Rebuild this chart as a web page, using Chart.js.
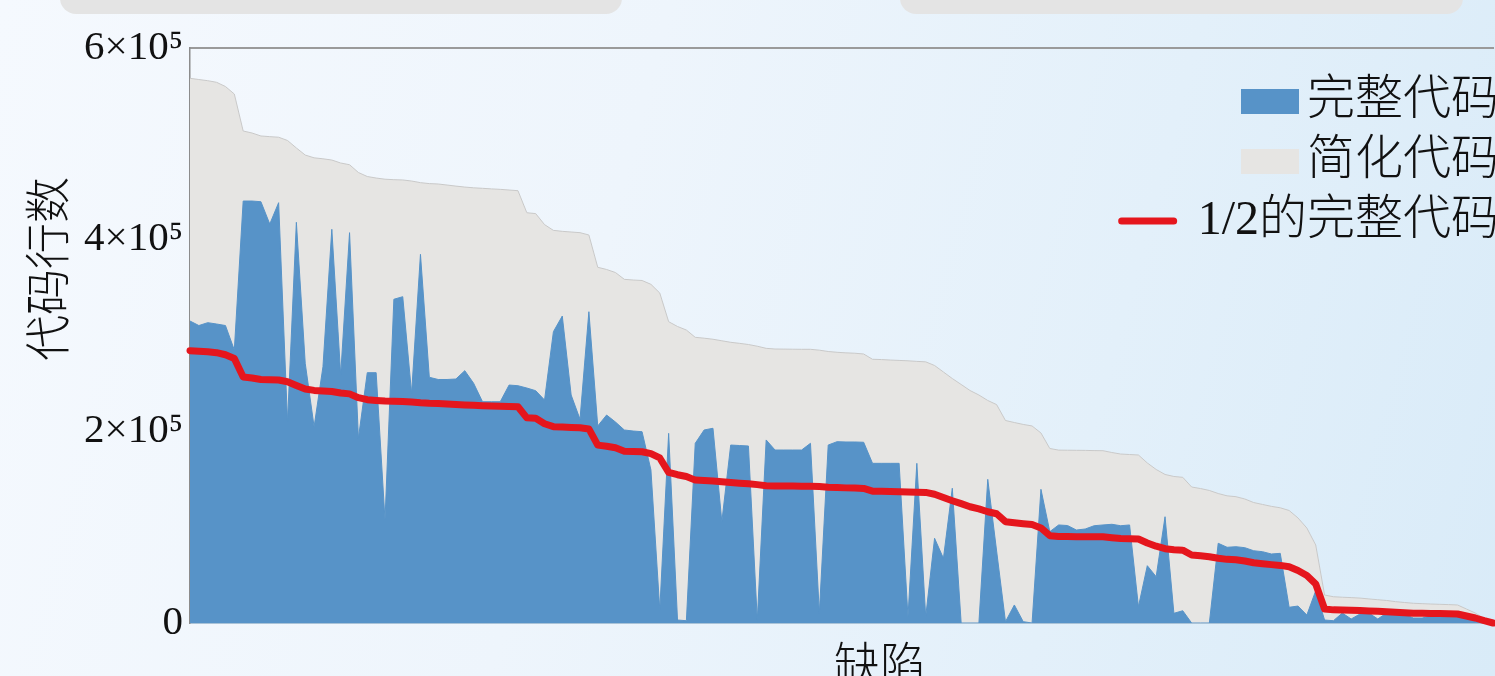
<!DOCTYPE html>
<html>
<head>
<meta charset="utf-8">
<title>代码行数</title>
<script src="https://cdn.jsdelivr.net/npm/chart.js@4.4.1/dist/chart.umd.min.js"></script>
<style>
  html, body { margin: 0; padding: 0; overflow: hidden; }
  body {
    width: 1495px; height: 676px; position: relative;
    background: linear-gradient(105deg, #f5f9fe 0%, #eef5fc 40%, #e3f0fa 72%, #d9ebf8 100%);
  }
  .tab { position: absolute; top: -30px; height: 44px; background: #e4e4e4; border-radius: 16px; }
  #chart { position: absolute; left: 0; top: 0; }
</style>
</head>
<body>
<div class="tab" style="left:60px; width:562px;"></div>
<div class="tab" style="left:900px; width:563px;"></div>
<canvas id="chart" width="1495" height="676"></canvas>
<script>
// values in thousands of lines, one entry per defect (sorted)
const fullCode = [
  315.1, 310.4, 313.4, 312.0, 310.4, 284.9, 440.3, 440.3, 439.6, 416.3,
  438.6, 210.1, 418.1, 271.0, 204.8, 267.4, 410.8, 258.8, 407.3, 192.7,
  261.2, 261.2, 107.5, 337.8, 340.5, 239.7, 384.7, 256.4, 254.1, 254.1,
  254.6, 263.3, 250.1, 230.9, 230.9, 230.9, 248.3, 247.6, 245.2, 242.4,
  232.7, 304.0, 320.3, 237.9, 212.6, 324.8, 205.6, 217.0, 209.7, 201.4,
  200.3, 199.6, 159.7, 13.6, 197.9, 3.1, 2.4, 187.5, 201.4, 203.2,
  105.7, 185.7, 185.2, 184.7, 3.1, 191.0, 180.5, 180.5, 180.5, 180.5,
  187.5, 10.1, 185.7, 189.2, 188.9, 188.9, 188.6, 166.6, 166.6, 166.6,
  166.6, 6.6, 166.6, 6.6, 88.4, 67.5, 140.6, 0, 0, 0,
  149.9, 75.1, 1.4, 18.8, 1.4, 0, 139.5, 95.3, 102.3, 101.7,
  97.0, 98.1, 101.5, 102.3, 103.0, 101.5, 102.3, 17.0, 59.8, 48.3,
  110.9, 10.1, 12.8, 0, 0, 0, 83.2, 79.0, 79.6, 78.6,
  75.4, 74.4, 72.0, 72.7, 16.4, 17.7, 8.3, 33.7, 3.1, 2.4,
  10.4, 4.2, 9.4, 10.4, 4.2, 10.4, 10.4, 9.4, 5.2, 5.2,
  7.3, 9.4, 9.4, 9.4, 8.3, 6.3, 3.1, 0
];
const simplifiedCode = [
  568.4, 567.1, 565.9, 564.2, 559.8, 552.0, 513.4, 511.3, 508.2, 507.5,
  506.9, 503.5, 495.7, 488.3, 485.4, 484.4, 483.1, 480.0, 478.2, 470.1,
  465.9, 464.3, 463.1, 462.6, 462.3, 461.2, 459.5, 458.5, 458.1, 457.0,
  455.9, 454.9, 454.1, 453.6, 453.0, 452.5, 451.8, 451.1, 428.1, 427.2,
  415.7, 409.7, 408.7, 408.0, 407.3, 404.9, 371.2, 368.9, 365.7, 358.6,
  357.9, 357.4, 353.4, 344.3, 314.4, 309.4, 305.7, 298.1, 297.2, 296.1,
  294.5, 292.9, 291.8, 290.6, 288.8, 286.6, 285.9, 285.8, 285.7, 285.6,
  285.6, 284.7, 283.3, 282.5, 281.9, 281.5, 280.7, 275.2, 274.9, 274.4,
  274.0, 273.6, 273.0, 272.5, 268.7, 261.9, 255.1, 248.9, 242.6, 237.9,
  232.2, 227.9, 211.3, 209.2, 207.2, 205.6, 198.3, 182.1, 180.4, 180.3,
  180.2, 180.1, 179.9, 179.8, 177.9, 176.3, 175.8, 175.3, 167.0, 160.2,
  155.0, 152.9, 152.0, 141.9, 140.3, 138.3, 135.1, 132.7, 131.8, 129.4,
  125.7, 123.7, 121.7, 120.2, 117.4, 109.6, 99.1, 81.4, 29.2, 27.4,
  26.9, 26.5, 26.0, 25.1, 24.3, 23.5, 22.3, 21.4, 20.6, 20.2,
  19.8, 19.5, 19.2, 18.8, 14.6, 10.4, 4.7, 0
];
const halfFullCode = [
  284.2, 283.6, 283.0, 282.1, 279.9, 276.0, 256.7, 255.7, 254.1, 253.8,
  253.5, 251.8, 247.9, 244.2, 242.7, 242.2, 241.6, 240.0, 239.1, 235.1,
  233.0, 232.2, 231.6, 231.3, 231.2, 230.6, 229.8, 229.3, 229.1, 228.5,
  228.0, 227.5, 227.1, 226.8, 226.5, 226.3, 225.9, 225.6, 214.1, 213.6,
  207.9, 204.9, 204.4, 204.0, 203.7, 202.5, 185.6, 184.5, 182.9, 179.3,
  179.0, 178.7, 176.7, 172.2, 157.2, 154.7, 152.9, 149.1, 148.6, 148.1,
  147.3, 146.5, 145.9, 145.3, 144.4, 143.3, 143.0, 142.9, 142.9, 142.8,
  142.8, 142.4, 141.7, 141.3, 141.0, 140.8, 140.4, 137.6, 137.5, 137.2,
  137.0, 136.8, 136.5, 136.3, 134.4, 131.0, 127.6, 124.5, 121.3, 119.0,
  116.1, 114.0, 105.7, 104.6, 103.6, 102.8, 99.2, 91.1, 90.2, 90.2,
  90.1, 90.1, 90.0, 89.9, 89.0, 88.2, 87.9, 87.7, 83.5, 80.1,
  77.5, 76.5, 76.0, 71.0, 70.2, 69.2, 67.6, 66.4, 65.9, 64.7,
  62.9, 61.9, 60.9, 60.1, 58.7, 54.8, 49.6, 40.7, 14.6, 13.7,
  13.5, 13.3, 13.0, 12.6, 12.2, 11.8, 11.2, 10.7, 10.3, 10.1,
  9.9, 9.8, 9.6, 9.4, 7.3, 5.2, 2.4, 0
];
const defects = fullCode.map((v, i) => i + 1);
const yTickLabels = ['0', '2×10⁵', '4×10⁵', '6×10⁵'];
const seriesNames = ['完整代码', '简化代码', '1/2的完整代码'];
const xTitle = '缺陷';
const yTitle = '代码行数';

const blue = '#5793c8';
const grey = '#e6e5e3';
const red = '#e5161d';

// legend + axis titles drawn by hand so they sit where the original has them
const decorations = {
  id: 'decorations',
  afterDraw(chart) {
    const ctx = chart.ctx;
    const area = chart.chartArea;
    ctx.save();
    ctx.fillStyle = '#111';
    ctx.textBaseline = 'middle';

    ctx.font = '300 46px "Noto Sans CJK SC"';
    ctx.textAlign = 'center';
    ctx.fillText(xTitle, 880, 663);
    ctx.save();
    ctx.translate(47, 269);
    ctx.rotate(-Math.PI / 2);
    ctx.fillText(yTitle, 0, 0);
    ctx.restore();

    ctx.font = '300 48px "Liberation Serif", "Noto Sans CJK SC"';
    ctx.textAlign = 'left';
    const textRight = area.right + 6;
    chart.data.datasets.forEach(function (ds, i) {
      const y = area.top + 53 + i * 60;
      const w = ctx.measureText(ds.label).width;
      const x = textRight - w;
      ctx.fillStyle = '#111';
      ctx.fillText(ds.label, x, y);
      if (ds.fill) {
        ctx.fillStyle = ds.backgroundColor;
        ctx.fillRect(x - 66, y - 12, 58, 25);
      } else {
        ctx.strokeStyle = ds.borderColor;
        ctx.lineWidth = 7;
        ctx.lineCap = 'round';
        ctx.beginPath();
        ctx.moveTo(x - 76, y);
        ctx.lineTo(x - 24, y);
        ctx.stroke();
      }
    });
    ctx.restore();
  }
};

new Chart(document.getElementById('chart'), {
  type: 'line',
  data: {
    labels: defects,
    datasets: [
      {
        label: seriesNames[0],
        data: fullCode,
        fill: 'origin',
        backgroundColor: blue,
        borderColor: blue,
        borderWidth: 1,
        pointRadius: 0,
        tension: 0,
        order: 1
      },
      {
        label: seriesNames[1],
        data: simplifiedCode,
        fill: 'origin',
        backgroundColor: grey,
        borderColor: '#c9c9c9',
        borderWidth: 1,
        pointRadius: 0,
        tension: 0,
        order: 2
      },
      {
        label: seriesNames[2],
        data: halfFullCode,
        fill: false,
        borderColor: red,
        borderWidth: 7,
        borderJoinStyle: 'round',
        borderCapStyle: 'round',
        pointRadius: 0,
        tension: 0,
        clip: false,
        order: 0
      }
    ]
  },
  options: {
    responsive: false,
    animation: false,
    devicePixelRatio: 1,
    layout: { padding: { top: 48, right: 2, bottom: 53, left: 0 } },
    plugins: {
      legend: { display: false },
      tooltip: { enabled: false }
    },
    scales: {
      x: {
        type: 'category',
        offset: false,
        grid: { display: false, drawTicks: false },
        ticks: { display: false },
        border: { display: true, color: '#a9c3d8', width: 2 }
      },
      xTop: {
        type: 'category',
        axis: 'x',
        position: 'top',
        offset: false,
        grid: { display: false, drawTicks: false },
        ticks: { display: false },
        border: { display: true, color: '#9a9a9a', width: 2 }
      },
      y: {
        min: 0,
        max: 600,
        afterFit: function (scale) { scale.width = 190; },
        grid: { display: false, drawTicks: false },
        border: { display: true, color: '#8c8c8c', width: 1.5 },
        ticks: {
          stepSize: 200,
          padding: 7,
          color: '#111',
          font: { family: '"Liberation Serif", "DejaVu Serif"', size: 41 },
          callback: function (value) { return yTickLabels[value / 200]; }
        }
      }
    }
  },
  plugins: [decorations]
});
</script>
</body>
</html>
